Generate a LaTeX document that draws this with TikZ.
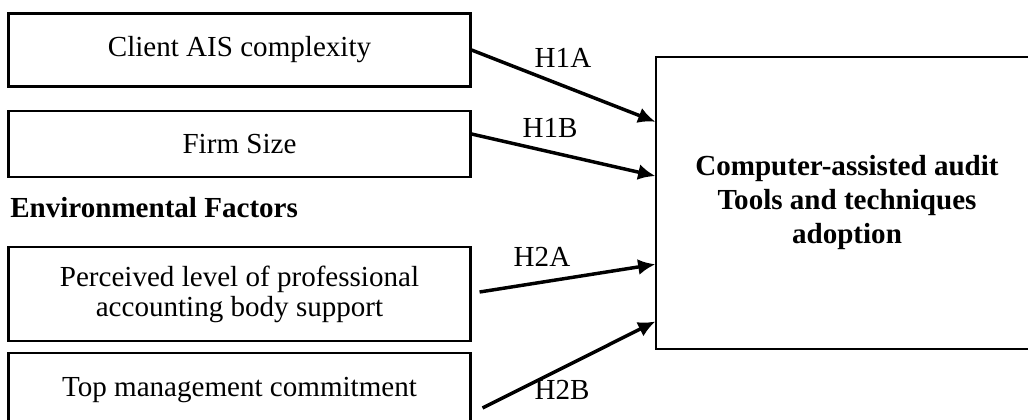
\documentclass[tikz,border=0pt]{standalone}
\usepackage{fontspec}
\setmainfont{Liberation Serif}
\usetikzlibrary{arrows.meta,calc}

\begin{document}
\begin{tikzpicture}[x=0.75pt,y=-0.75pt]
                    \tikzstyle{factor}=[draw,line width=1.6pt,minimum width=346.5pt,inner sep=0pt,align=center,font=\fontsize{21.8}{22.5}\selectfont]
                    \tikzstyle{outcome}=[draw,line width=0.8pt,minimum width=286.5pt,minimum height=219pt,inner sep=0pt,align=center,font=\fontsize{21.8}{25.5}\selectfont\bfseries]
                    \tikzstyle{hyp}=[line width=2.6pt,-{Latex[length=13pt,width=12pt]}]
                    \tikzstyle{hlabel}=[inner sep=0pt,font=\fontsize{21.8}{25}\selectfont]
                    \useasboundingbox (0,0) rectangle (1028,419);
                    \clip (0,0) rectangle (1028,419);

                    \node (complexity) at (239.5,50) [factor,minimum height=54.75pt] {Client AIS complexity};
                    \node (size) at (239.5,144) [factor,minimum height=49.5pt] {Firm Size};
                    \node (env) at (10,217) [anchor=base west,inner sep=0pt,font=\fontsize{21.8}{25}\selectfont\bfseries] {Environmental Factors};
                    \node (support) at (239.5,294) [factor,minimum height=70.5pt] {Perceived level of professional\\accounting body support};
                    \node (commit) at (239.5,390) [factor,minimum height=55.5pt] {Top management commitment};

                    \node (caatt) at (847,203) [outcome] {Computer-assisted audit\\Tools and techniques\\adoption};

                    \draw [hyp] (complexity.east) -- ($(caatt.north west)!0.223!(caatt.south west)$);
                    \draw [hyp] ([shift={(0,-10)}]size.east) -- ($(caatt.north west)!0.408!(caatt.south west)$);
                    \draw [hyp] ([shift={(8,-2)}]support.east) -- ($(caatt.north west)!0.709!(caatt.south west)$);
                    \draw [hyp] ([shift={(11,18)}]commit.east) -- ($(caatt.north west)!0.904!(caatt.south west)$);

                    \node (h1a) at (563,58) [hlabel] {H1A};
                    \node (h1b) at (550,128) [hlabel] {H1B};
                    \node (h2a) at (542,257) [hlabel] {H2A};
                    \node (h2b) at (562,390) [hlabel] {H2B};
                \end{tikzpicture}
\end{document}
